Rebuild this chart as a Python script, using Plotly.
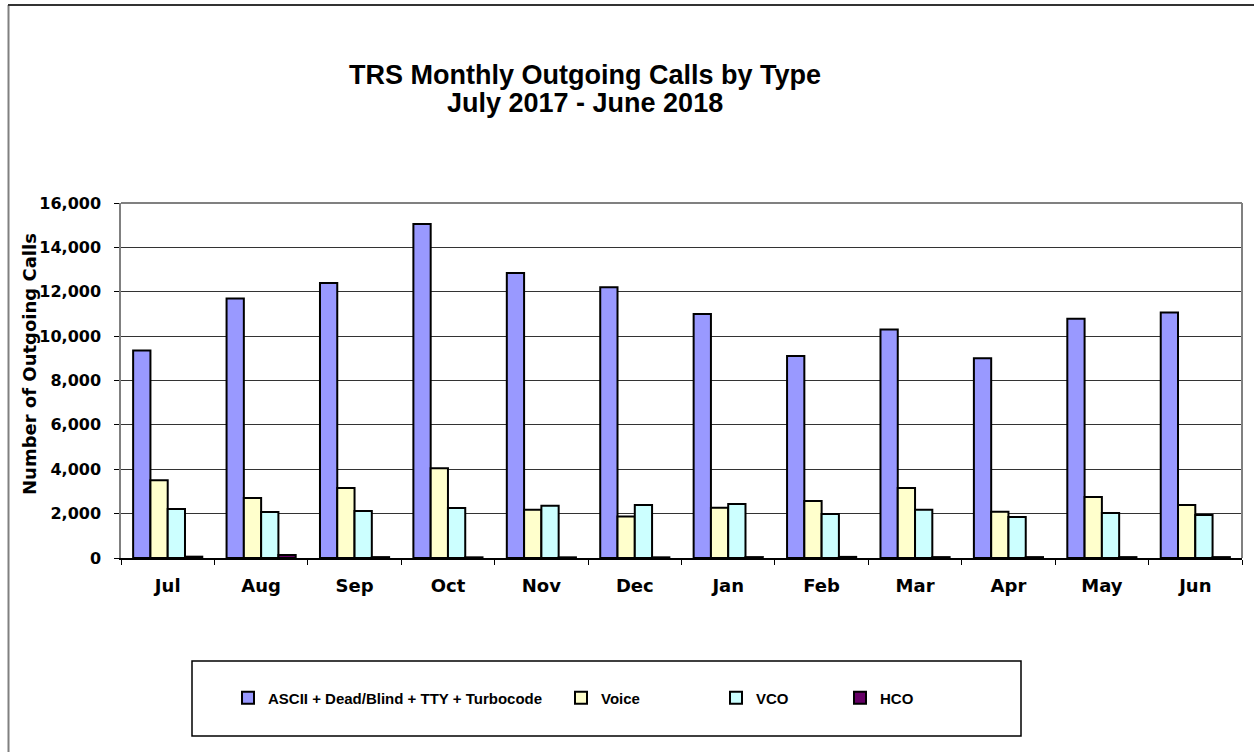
import plotly.graph_objects as go

months = ['Jul', 'Aug', 'Sep', 'Oct', 'Nov', 'Dec', 'Jan', 'Feb', 'Mar', 'Apr', 'May', 'Jun']
ascii_calls = [9350, 11700, 12400, 15050, 12850, 12200, 11000, 9100, 10300, 9000, 10780, 11070]
voice_calls = [3500, 2700, 3150, 4050, 2180, 1870, 2270, 2570, 3150, 2080, 2750, 2390]
vco_calls = [2210, 2070, 2120, 2250, 2350, 2390, 2430, 1980, 2180, 1850, 2030, 1940]
hco_calls = [60, 130, 40, 30, 30, 30, 40, 50, 40, 40, 40, 40]

series = [
    ('ASCII + Dead/Blind + TTY + Turbocode', ascii_calls, '#9999FF', 'legend'),
    ('Voice', voice_calls, '#FFFFCC', 'legend2'),
    ('VCO', vco_calls, '#CCFFFF', 'legend3'),
    ('HCO', hco_calls, '#660066', 'legend4'),
]

FONT = 'Liberation Sans, Arial, sans-serif'
WIDE = 'DejaVu Sans, Verdana, sans-serif'
W, H = 1254, 752
L, R, T, B = 121, 12, 203, 194
PW, PH = W - L - R, H - T - B


def px_x(px):
    return (px - L) / PW


def px_y(py):
    return (H - B - py) / PH


fig = go.Figure()
for name, vals, color, leg in series:
    fig.add_trace(go.Bar(
        x=months, y=vals, name=name, legend=leg,
        marker=dict(color=color, line=dict(color='black', width=2)),
    ))

# legends placed one by one to get the spaced-out row of the original
legend_text_x = [270, 603, 758, 882]
legend_common = dict(orientation='h', yanchor='middle', xanchor='left',
                     bgcolor='rgba(0,0,0,0)', borderwidth=0,
                     font=dict(family=FONT, size=15, color='black', weight='bold'))
legends = {}
for i, tx in enumerate(legend_text_x):
    key = 'legend' if i == 0 else f'legend{i + 1}'
    legends[key] = dict(legend_common, x=px_x(tx - 42), y=px_y(698))

shapes = [
    # legend box
    dict(type='rect', xref='paper', yref='paper',
         x0=px_x(192), x1=px_x(1021), y0=px_y(736), y1=px_y(661),
         line=dict(color='black', width=1.5), layer='below'),
    # outer chart border (left + top)
    dict(type='line', xref='paper', yref='paper',
         x0=px_x(8.5), x1=px_x(8.5), y0=px_y(5), y1=px_y(800),
         line=dict(color='#808080', width=2)),
    dict(type='line', xref='paper', yref='paper',
         x0=px_x(8), x1=px_x(1300), y0=px_y(5), y1=px_y(5),
         line=dict(color='#333333', width=2)),
    # plot area border (top + right)
    dict(type='line', xref='paper', yref='paper', x0=0, x1=1, y0=1, y1=1,
         line=dict(color='#808080', width=2)),
    dict(type='line', xref='paper', yref='paper', x0=1, x1=1, y0=0, y1=1,
         line=dict(color='#808080', width=2)),
]

annotations = [
    dict(text='TRS Monthly Outgoing Calls by Type', xref='paper', yref='paper',
         x=px_x(585), y=px_y(75), showarrow=False, xanchor='center', yanchor='middle',
         font=dict(family=FONT, size=27, color='black', weight='bold')),
    dict(text='July 2017 - June 2018', xref='paper', yref='paper',
         x=px_x(585), y=px_y(103), showarrow=False, xanchor='center', yanchor='middle',
         font=dict(family=FONT, size=27, color='black', weight='bold')),
    dict(text='Number of Outgoing Calls', xref='paper', yref='paper',
         x=px_x(29), y=px_y(364), showarrow=False, textangle=-90,
         xanchor='center', yanchor='middle',
         font=dict(family=WIDE, size=18, color='black', weight='bold')),
]

fig.update_layout(
    width=W, height=H,
    margin=dict(l=L, r=R, t=T, b=B),
    paper_bgcolor='white', plot_bgcolor='white',
    barmode='group', bargap=0.26, bargroupgap=0,
    shapes=shapes, annotations=annotations,
    showlegend=True,
    **legends,
)
fig.update_xaxes(
    type='category', tickson='boundaries', ticks='outside', ticklen=5,
    tickcolor='black', showline=True, linecolor='black', linewidth=1.5,
    showgrid=False, ticklabelstandoff=11,
    tickfont=dict(family=WIDE, size=18, color='black', weight='bold'),
)
fig.update_yaxes(
    range=[0, 16000], dtick=2000, tickformat=',', ticks='outside', ticklen=5,
    tickcolor='black', showline=True, linecolor='#808080', linewidth=1.5,
    showgrid=True, gridcolor='#333333', gridwidth=1, zeroline=False,
    ticklabelstandoff=10,
    tickfont=dict(family=WIDE, size=16, color='black', weight='bold'),
)

# the page body has a default 8px margin; drop it so the figure sits at 0,0
fig.write_html('out.html', config={'displayModeBar': False},
               post_script="document.body.style.margin='0';")
